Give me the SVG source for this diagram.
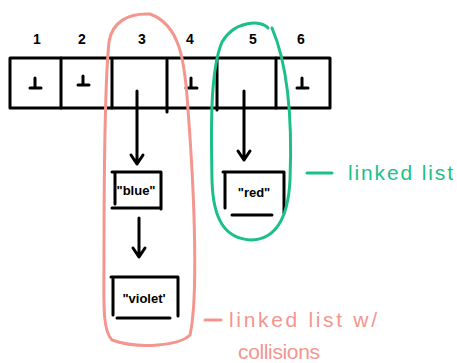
<svg xmlns="http://www.w3.org/2000/svg" width="457" height="363" viewBox="0 0 457 363">
<style>
.ink{fill:none;stroke:#000;stroke-width:3;stroke-linecap:round;stroke-linejoin:round}
.num{font-family:"Liberation Sans",Arial,sans-serif;font-size:14px;font-weight:bold;fill:#000;text-anchor:middle}
.val{font-family:"Liberation Sans",Arial,sans-serif;font-size:13px;font-weight:bold;fill:#000;text-anchor:middle}
.pink{fill:none;stroke:#f4958e;stroke-width:3;stroke-linecap:round}
.green{fill:none;stroke:#1cbf8a;stroke-width:3;stroke-linecap:round}
.lp{font-family:"Liberation Sans",Arial,sans-serif;font-size:21px;fill:#f4958e}
.lg{font-family:"Liberation Sans",Arial,sans-serif;font-size:21px;fill:#1cbf8a}
</style>
<rect width="457" height="363" fill="#fff"/>
<g id="array">
<rect x="10" y="58" width="320" height="50" class="ink"/>
<path class="ink" d="M61 58V108M112 60V108M167 60V112M217 60V110M276 58V108"/>
<text class="num" x="37" y="44">1</text>
<text class="num" x="82" y="44">2</text>
<text class="num" x="142" y="44">3</text>
<text class="num" x="190" y="44">4</text>
<text class="num" x="253" y="44">5</text>
<text class="num" x="301" y="44">6</text>
<path class="ink" d="M30 88H41M35 88V78M78 85H89M83 85V76M186 88H197M191 88V78M297 88H308M302 88V78"/>
</g>
<g id="node-blue">
<path class="ink" d="M112 172H161V209M115 173V204M112 208H160"/>
<text class="val" x="136" y="195">"blue"</text>
</g>
<g id="node-violet">
<path class="ink" d="M111 277H178V316M113 279V315M117 318H170"/>
<text class="val" x="144" y="303">"violet'</text>
</g>
<g id="node-red">
<path class="ink" d="M223 172H284V213M225 174V208M232 215H272"/>
<text class="val" x="254" y="197">"red"</text>
</g>
<g id="connectors">
<path class="ink" d="M137 91V164M131 155L137 164L143 155"/>
<path class="ink" d="M139 218V256M133 248L139 257L145 248"/>
<path class="ink" d="M244 91V160M238 151L244 160L250 151"/>
</g>
<g id="group-collisions">
<path class="pink" d="M150 14C128 13 112 22 109 42C104 90 104 190 104 260C104 300 102 330 112 340C140 350 180 345 190 335C198 300 195 200 188 110C185 60 180 25 150 14Z"/>
<path class="pink" d="M205 320H221"/>
<text class="lp" x="229" y="327" textLength="148">linked list w/</text>
<text class="lp" x="238" y="359" textLength="82">collisions</text>
</g>
<g id="group-linked">
<path class="green" d="M268 28C262 20 235 20 222 42C210 70 211 130 212 180C213 220 225 238 250 240C275 240 288 220 290 180C292 130 290 70 272 28"/>
<path class="green" d="M307 173H332"/>
<text class="lg" x="348" y="180" textLength="105">linked list</text>
</g>
</svg>
